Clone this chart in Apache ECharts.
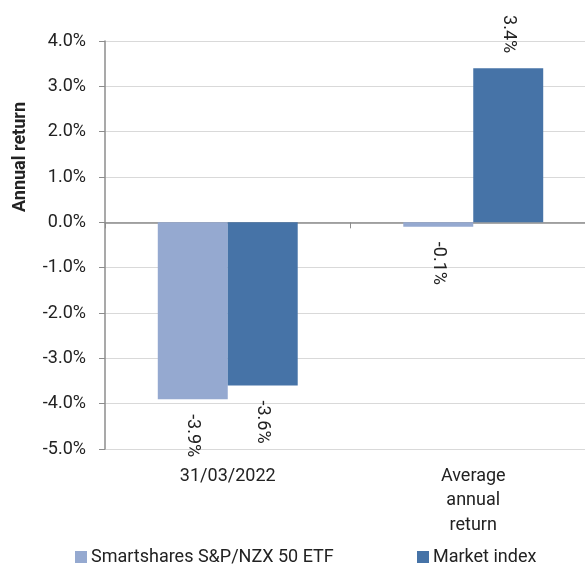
<!DOCTYPE html>
<html>
<head>
<meta charset="utf-8">
<script src="https://cdn.jsdelivr.net/npm/echarts@6/dist/echarts.min.js"></script>
<style>
  html, body { margin: 0; padding: 0; background: #fff; overflow: hidden; }
  /* plot area runs past the right edge of the window, as in the original */
  #chart { width: 596px; height: 565px; }
</style>
</head>
<body>
<div id="chart"></div>
<script>
// Data
const categories = ['31/03/2022', 'Average annual return'];
const seriesNames = ['Smartshares S&P/NZX 50 ETF', 'Market index'];
const etfValues = [-3.9, -0.1];
const indexValues = [-3.6, 3.4];
const yTicks = { min: -5, max: 4, interval: 1 };

const textColor = '#222';
const font = 'Roboto';
const fontSize = 18;
const colors = ['#95a9d0', '#4673a7'];

// bar labels: outside end, rotated to read top-to-bottom
const withLabels = (values) => values.map(v => ({
  value: v,
  label: v >= 0
    ? { position: 'top', align: 'right' }
    : { position: 'bottom', align: 'left' }
}));

const chart = echarts.init(document.getElementById('chart'));

const labelStyle = {
  show: true,
  rotate: -90,
  distance: 15,
  verticalAlign: 'middle',
  color: textColor,
  fontFamily: font,
  fontSize: fontSize,
  formatter: p => p.value.toFixed(1) + '%'
};

const legendStyle = {
  top: 548,
  padding: 0,
  itemWidth: 12,
  itemHeight: 12,
  icon: 'rect',
  textStyle: { color: textColor, fontFamily: font, fontSize: fontSize, padding: [0, 0, 0, -1] }
};

const option = {
  animation: false,
  textStyle: { fontFamily: font },
  grid: { left: 105, right: 0, top: 41, bottom: 116 },
  graphic: [
    {
      type: 'text',
      x: 20,
      y: 157,
      rotation: Math.PI / 2,
      style: {
        text: 'Annual return',
        fontFamily: font,
        fontWeight: 'bold',
        fontSize: 18,
        fill: textColor,
        textAlign: 'center',
        textVerticalAlign: 'middle'
      }
    }
  ],
  legend: [
    Object.assign({ data: [seriesNames[0]], left: 75 }, legendStyle),
    Object.assign({ data: [seriesNames[1]], left: 417 }, legendStyle)
  ],
  xAxis: [
    {
      type: 'category',
      data: categories,
      position: 'bottom',
      axisLine: { show: false, onZero: false },
      axisTick: { show: false },
      axisLabel: {
        color: textColor,
        fontFamily: font,
        fontSize: fontSize,
        margin: 15,
        lineHeight: 24.5,
        formatter: v => v.split(' ').join('\n')
      }
    },
    {
      type: 'category',
      data: categories,
      position: 'bottom',
      axisLine: { show: true, onZero: true, lineStyle: { color: '#8c8c8c', width: 1.5 } },
      axisTick: { show: true, length: 6, lineStyle: { color: '#8c8c8c' } },
      axisLabel: { show: false }
    }
  ],
  yAxis: {
    type: 'value',
    min: yTicks.min,
    max: yTicks.max,
    interval: yTicks.interval,
    axisLine: { show: true, lineStyle: { color: '#8c8c8c', width: 1.5 } },
    axisTick: { show: true, length: 6, lineStyle: { color: '#8c8c8c' } },
    splitLine: { lineStyle: { color: '#d9d9d9', width: 1 } },
    axisLabel: {
      color: textColor,
      fontFamily: font,
      fontSize: fontSize,
      margin: 19,
      formatter: v => v.toFixed(1) + '%'
    }
  },
  series: [
    {
      name: seriesNames[0],
      type: 'bar',
      xAxisIndex: 0,
      data: withLabels(etfValues),
      barGap: '0%',
      barCategoryGap: '43%',
      itemStyle: { color: colors[0] },
      label: labelStyle
    },
    {
      name: seriesNames[1],
      type: 'bar',
      xAxisIndex: 0,
      data: withLabels(indexValues),
      itemStyle: { color: colors[1] },
      label: labelStyle
    }
  ]
};

chart.setOption(option);
</script>
</body>
</html>
